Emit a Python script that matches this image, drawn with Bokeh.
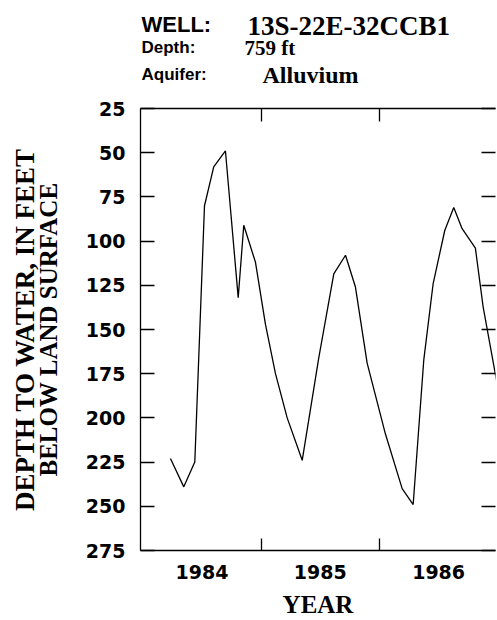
from bokeh.plotting import figure
from bokeh.layouts import column
from bokeh.models import Range1d, LinearAxis, FixedTicker, Label
from bokeh.embed import file_html
from bokeh.resources import INLINE

# ---- data ----
years = [1984.233, 1984.346, 1984.439, 1984.521, 1984.599, 1984.698, 1984.806,
         1984.853, 1984.952, 1985.036, 1985.121, 1985.220, 1985.347, 1985.487,
         1985.614, 1985.713, 1985.797, 1985.896, 1986.050, 1986.192, 1986.285,
         1986.375, 1986.454, 1986.552, 1986.628, 1986.699, 1986.811, 1986.876,
         1987.020]
depth_ft = [223, 239, 225, 80, 58, 49, 132,
            91, 112, 147, 175, 200, 224, 166,
            118.5, 108, 126, 169, 209, 240, 249,
            167, 124, 94, 81, 93, 104, 137,
            190]

year_labels = ["1984", "1985", "1986"]
year_bounds = [1985, 1986]
depth_ticks = [25, 50, 75, 100, 125, 150, 175, 200, 225, 250, 275]

title_well = "13S-22E-32CCB1"
title_depth = "759 ft"
title_aquifer = "Alluvium"
ylabel_1 = "DEPTH TO WATER, IN FEET"
ylabel_2 = "BELOW LAND SURFACE"
xlabel = "YEAR"

SANS = "Liberation Sans"
SERIF = "Liberation Serif"
TICKFONT = "DejaVu Sans"
AX_W = 1.3
TITLE_H = 95
FRAME_LEFT = 140

# ---------------- title block ----------------
t = figure(width=497, height=TITLE_H, output_backend="svg", toolbar_location=None,
           x_range=Range1d(0, 1), y_range=Range1d(0, 1),
           x_axis_type=None, y_axis_type=None,
           min_border_left=FRAME_LEFT, min_border_right=2,
           min_border_top=0, min_border_bottom=0)
t.grid.visible = False
t.outline_line_color = None


def lab(x, y_base, text, font, size, style="bold"):
    # x: canvas px of the text start, y_base: canvas px of the baseline from the top
    t.add_layout(Label(x=x - FRAME_LEFT, y=TITLE_H - y_base + 7,
                       x_units="screen", y_units="screen", text=text,
                       text_font=font, text_font_size=size, text_font_style=style,
                       text_color="black", text_baseline="alphabetic"))


lab(141, 31, "WELL:", SANS, "22px")
lab(247, 32, title_well, SERIF, "27px")
lab(141, 54, "Depth:", SANS, "17px")
lab(244, 54, title_depth, SERIF, "21px")
lab(141, 81, "Aquifer:", SANS, "17px")
lab(262, 81, title_aquifer, SERIF, "24px")

# ---------------- main chart ----------------
p = figure(width=497, height=620 - TITLE_H, output_backend="svg", toolbar_location=None,
           x_range=Range1d(1983.980, 1986.981), y_range=Range1d(275, 25),
           x_axis_type=None, y_axis_type=None,
           min_border_left=FRAME_LEFT, min_border_top=108 - TITLE_H, min_border_bottom=70,
           min_border_right=2)
p.grid.visible = False
p.outline_line_color = None

# bottom axis: labels at mid-year, tick marks (minor) at year boundaries
label_pos = [float(y) + 0.5 for y in year_labels]
bottom = LinearAxis(ticker=FixedTicker(ticks=label_pos, minor_ticks=year_bounds),
                    major_label_overrides={lp: lb for lp, lb in zip(label_pos, year_labels)},
                    major_tick_line_color=None, major_tick_in=0, major_tick_out=0,
                    minor_tick_in=12, minor_tick_out=0, minor_tick_line_color="black",
                    minor_tick_line_width=AX_W,
                    axis_line_color="black", axis_line_width=AX_W,
                    major_label_text_font=TICKFONT, major_label_text_font_style="bold",
                    major_label_text_font_size="19px", major_label_text_color="black",
                    major_label_standoff=14,
                    axis_label=xlabel, axis_label_text_font=SERIF,
                    axis_label_text_font_style="bold", axis_label_text_font_size="25px",
                    axis_label_text_color="black", axis_label_standoff=9)
p.add_layout(bottom, "below")

top = LinearAxis(ticker=FixedTicker(ticks=year_bounds, minor_ticks=[]),
                 major_label_overrides={b: "" for b in year_bounds},
                 major_tick_in=13, major_tick_out=0, major_tick_line_width=AX_W,
                 minor_tick_line_color=None,
                 axis_line_color="black", axis_line_width=AX_W,
                 major_label_standoff=0)
p.add_layout(top, "above")

left = LinearAxis(ticker=FixedTicker(ticks=depth_ticks, minor_ticks=[]),
                  major_tick_in=14, major_tick_out=0, major_tick_line_width=AX_W,
                  minor_tick_line_color=None,
                  axis_line_color="black", axis_line_width=AX_W,
                  major_label_text_font=TICKFONT, major_label_text_font_style="bold",
                  major_label_text_font_size="19px", major_label_text_color="black",
                  major_label_standoff=15,
                  axis_label=ylabel_2, axis_label_text_font=SERIF,
                  axis_label_text_font_style="bold", axis_label_text_font_size="25px",
                  axis_label_text_color="black", axis_label_standoff=21)
p.add_layout(left, "left")

# outer (label-only) axis carrying the first line of the y title
left2 = LinearAxis(ticker=FixedTicker(ticks=[], minor_ticks=[]),
                   major_tick_line_color=None, minor_tick_line_color=None,
                   axis_line_color=None, major_label_standoff=0,
                   axis_label=ylabel_1, axis_label_text_font=SERIF,
                   axis_label_text_font_style="bold", axis_label_text_font_size="27px",
                   axis_label_text_color="black", axis_label_standoff=-8)
p.add_layout(left2, "left")

right = LinearAxis(ticker=FixedTicker(ticks=depth_ticks, minor_ticks=[]),
                   major_label_overrides={tk: "" for tk in depth_ticks},
                   major_tick_in=14, major_tick_out=0, major_tick_line_width=AX_W,
                   minor_tick_line_color=None,
                   axis_line_color=None, major_label_standoff=0)
p.add_layout(right, "right")

p.line(years, depth_ft, line_color="black", line_width=1.3)

open("out.html", "w").write(file_html(column(t, p, spacing=0), INLINE))
